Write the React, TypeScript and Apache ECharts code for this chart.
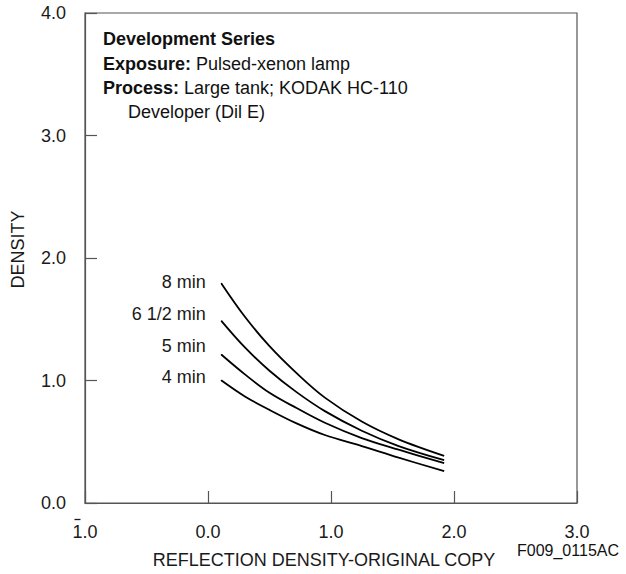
import React, { useEffect, useRef } from "react";
import * as echarts from "echarts";

const xValues = [0.11, 0.3, 0.5, 0.72, 0.95, 1.25, 1.55, 1.92];
const min8 = [1.79, 1.52, 1.28, 1.06, 0.86, 0.665, 0.52, 0.385];
const min65 = [1.485, 1.27, 1.08, 0.905, 0.75, 0.59, 0.465, 0.35];
const min5 = [1.21, 1.05, 0.9, 0.775, 0.655, 0.53, 0.435, 0.325];
const min4 = [1.0, 0.87, 0.76, 0.65, 0.555, 0.465, 0.37, 0.26];
const seriesNames = ["8 min", "6 1/2 min", "5 min", "4 min"];
const seriesValues = [min8, min65, min5, min4];
const labelOffsets = [-1.6, -6.7, -9, -4];
const xTickLabels: Record<string, string> = { "-1": "1.0", "0": "0.0", "1": "1.0", "2": "2.0", "3": "3.0" };

const FONT = "'Liberation Sans', Arial, Helvetica, sans-serif";

export default function App() {
  const ref = useRef<HTMLDivElement>(null);
  useEffect(() => {
    if (!ref.current) return;
    const chart = echarts.init(ref.current, undefined, { renderer: "svg" });
    const series = seriesValues.map((vals, si) => ({
      type: "line",
      name: seriesNames[si],
      smooth: 0.35,
      showSymbol: true,
      symbol: "circle",
      symbolSize: 1.5,
      itemStyle: { color: "#000" },
      lineStyle: { color: "#000", width: 1.8 },
      silent: true,
      data: vals.map((v, i) =>
        i === 0
          ? {
              value: [xValues[i], v],
              label: {
                show: true,
                position: "left",
                distance: 15,
                offset: [0, labelOffsets[si]],
                formatter: seriesNames[si],
                fontSize: 18,
                fontFamily: FONT,
                color: "#1a1a1a",
              },
            }
          : { value: [xValues[i], v], symbol: "none" }
      ),
    }));
    const axisCommon = {
      axisLine: { show: true, onZero: false, lineStyle: { color: "#555", width: 1.2 } },
      axisTick: { show: true, inside: true, length: 12, lineStyle: { color: "#555", width: 1.2 } },
      splitLine: { show: false },
    };
    chart.setOption({
      animation: false,
      textStyle: { fontFamily: FONT },
      grid: {
        left: 85,
        top: 13,
        right: 49,
        bottom: 70,
        show: true,
        borderColor: "#555",
        borderWidth: 1.2,
        backgroundColor: "transparent",
      },
      xAxis: {
        type: "value",
        min: -1,
        max: 3,
        interval: 1,
        name: "REFLECTION DENSITY-ORIGINAL COPY",
        nameLocation: "middle",
        nameGap: 48,
        nameTextStyle: { fontSize: 18, color: "#1a1a1a", fontFamily: FONT, padding: [0, 14, 0, 0] },
        ...axisCommon,
        axisLabel: {
          fontSize: 18,
          color: "#1a1a1a",
          margin: 20,
          fontFamily: FONT,
          formatter: (v: number) => xTickLabels[String(v)] ?? v.toFixed(1),
        },
      },
      yAxis: {
        type: "value",
        min: 0,
        max: 4,
        interval: 1,
        name: "DENSITY",
        nameLocation: "middle",
        nameGap: 58,
        nameTextStyle: { fontSize: 18, color: "#1a1a1a", fontFamily: FONT, padding: [0, 0, 0, 17] },
        ...axisCommon,
        axisLabel: {
          fontSize: 18,
          color: "#1a1a1a",
          margin: 19,
          fontFamily: FONT,
          formatter: (v: number) => v.toFixed(1),
        },
      },
      graphic: [
        {
          id: "title",
          type: "text",
          left: 103,
          top: 30,
          style: { text: "Development Series", font: `bold 18px ${FONT}`, fill: "#111" },
        },
        {
          id: "exposure",
          type: "text",
          left: 103,
          top: 55,
          style: {
            text: "{b|Exposure:} Pulsed-xenon lamp",
            font: `18px ${FONT}`,
            fill: "#111",
            rich: { b: { fontWeight: "bold", fontSize: 18, fontFamily: FONT, fill: "#111" } },
          },
        },
        {
          id: "process",
          type: "text",
          left: 103,
          top: 79,
          style: {
            text: "{b|Process:} Large tank; KODAK HC-110",
            font: `18px ${FONT}`,
            fill: "#111",
            rich: { b: { fontWeight: "bold", fontSize: 18, fontFamily: FONT, fill: "#111" } },
          },
        },
        {
          id: "developer",
          type: "text",
          left: 128,
          top: 103,
          style: { text: "Developer (Dil E)", font: `18px ${FONT}`, fill: "#111" },
        },
        {
          id: "figid",
          type: "text",
          left: 517,
          top: 542,
          style: { text: "F009_0115AC", font: `16px ${FONT}`, fill: "#111" },
        },
      ],
      series,
    });
    // overbar of the "bar one" notation on the -1 tick label
    const p = chart.convertToPixel({ xAxisIndex: 0, yAxisIndex: 0 }, [-1, 0]) as number[];
    if (p && isFinite(p[0]) && isFinite(p[1])) {
      chart.setOption({
        graphic: [
          {
            id: "overbar",
            type: "line",
            shape: { x1: p[0] - 10.5, y1: p[1] + 16.5, x2: p[0] - 4.5, y2: p[1] + 16.5 },
            style: { stroke: "#1a1a1a", lineWidth: 1.3 },
            silent: true,
          },
        ],
      });
    }
    return () => chart.dispose();
  }, []);
  return (
    <div
      ref={ref}
      style={{ position: "fixed", left: 0, top: 0, width: 626, height: 574, background: "#fff" }}
    />
  );
}
